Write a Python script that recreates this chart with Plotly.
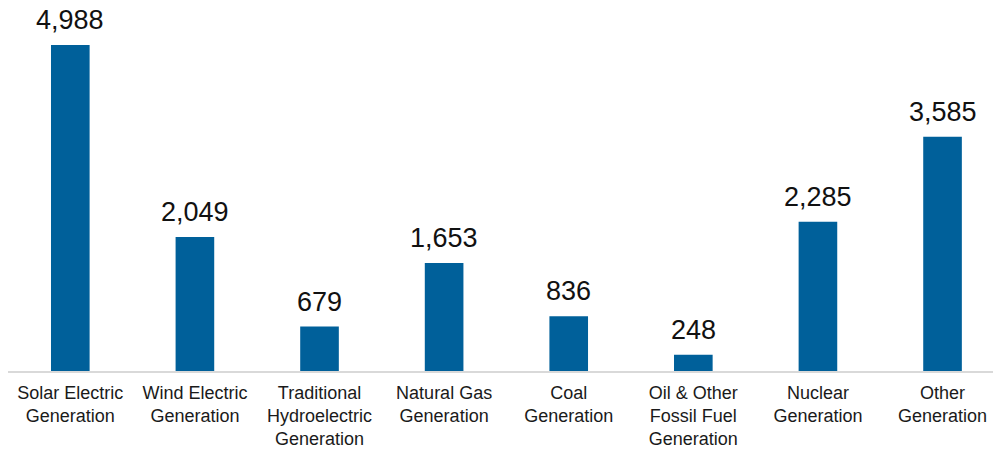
import plotly.graph_objects as go

categories = ["Solar Electric<br>Generation", "Wind Electric<br>Generation",
              "Traditional<br>Hydroelectric<br>Generation", "Natural Gas<br>Generation",
              "Coal<br>Generation", "Oil & Other<br>Fossil Fuel<br>Generation",
              "Nuclear<br>Generation", "Other<br>Generation"]
values = [4988, 2049, 679, 1653, 836, 248, 2285, 3585]
value_labels = [f"{v:,}" for v in values]

fig = go.Figure()
fig.add_trace(go.Bar(
    x=list(range(len(categories))), y=values,
    marker=dict(color="#00609a", line=dict(width=0)),
    width=0.31,
))

for i, (v, t) in enumerate(zip(values, value_labels)):
    fig.add_annotation(x=i, y=v, text=t, showarrow=False, yanchor="bottom",
                       yshift=8, font=dict(family="Liberation Sans, Arial", size=27, color="#111111"))

fig.update_layout(
    width=993, height=452,
    margin=dict(l=8, r=0, t=0, b=81),
    plot_bgcolor="white", paper_bgcolor="white",
    showlegend=False,
    bargap=0.69,
    font=dict(family="Liberation Sans, Arial", size=18, color="#1a1a1a"),
)
fig.update_xaxes(
    tickmode="array", tickvals=list(range(len(categories))), ticktext=categories,
    range=[-0.5, 7.405], showline=True, linecolor="#d9d9d9", linewidth=2,
    showgrid=False, zeroline=False, ticks="", ticklen=0, ticklabelstandoff=4,
    tickfont=dict(family="Liberation Sans, Arial", size=18, color="#1a1a1a"),
)
fig.update_yaxes(range=[0, 5676], visible=False, showgrid=False, zeroline=False)

fig.write_html("out.html")
